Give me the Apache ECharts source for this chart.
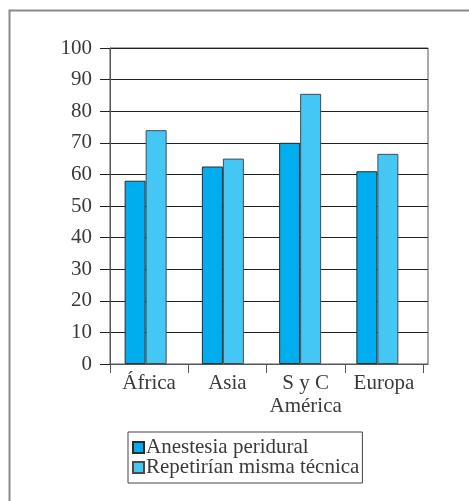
<!DOCTYPE html>
<html>
<head>
<meta charset="utf-8">
<script src="https://cdn.jsdelivr.net/npm/echarts@6/dist/echarts.min.js"></script>
<style>
  html, body { margin: 0; padding: 0; background: #fff; }
  #chart { width: 469px; height: 501px; }
</style>
</head>
<body>
<div id="chart"></div>
<script>
// Regions and the two survey measures (percent)
const regions = ['África', 'Asia', 'S y C\nAmérica', 'Europa'];
const anestesiaPeridural = [58, 62.5, 70, 61];
const repetiriaMismaTecnica = [74, 65, 85.5, 66.5];
const seriesNames = ['Anestesia peridural', 'Repetirían misma técnica'];
const yTicks = { min: 0, max: 100, step: 10 };

const FONT = 'Liberation Serif';
const TEXT = '#3a3a3a';
const FS = 21;

const chart = echarts.init(document.getElementById('chart'), null, { renderer: 'canvas' });

const plotTop = 48, plotBottom = 137;

chart.setOption({
  animation: false,
  backgroundColor: '#fff',
  textStyle: { fontFamily: FONT },
  graphic: [{
    // outer panel edge (left and top sides)
    type: 'polyline',
    shape: { points: [[9.5, 520], [9.5, 10.5], [480, 10.5]] },
    style: { fill: null, stroke: '#8a8a8a', lineWidth: 2 },
    silent: true
  }],
  grid: [
    // plot frame with gridlines
    { left: 110, right: 41, top: plotTop, bottom: plotBottom, show: true, borderColor: '#555', borderWidth: 1 },
    // category ticks and labels
    { left: 110, width: 313, top: plotTop, bottom: plotBottom },
    // bars
    { left: 107, width: 309, top: plotTop, bottom: plotBottom }
  ],
  xAxis: [
    { gridIndex: 0, type: 'category', data: regions, axisLine: { show: true, lineStyle: { color: '#555', width: 1 } },
      axisTick: { show: false }, axisLabel: { show: false } },
    { gridIndex: 1, type: 'category', data: regions, axisLine: { show: false },
      axisTick: { show: true, length: 9, lineStyle: { color: '#555' } },
      axisLabel: { show: true, color: TEXT, fontFamily: FONT, fontSize: FS, margin: 8, lineHeight: 23, interval: 0 } },
    { gridIndex: 2, type: 'category', data: regions, show: false }
  ],
  yAxis: [
    { gridIndex: 0, type: 'value', min: yTicks.min, max: yTicks.max, interval: yTicks.step,
      axisLine: { show: true, lineStyle: { color: '#555', width: 1 } },
      axisTick: { show: true, inside: false, length: 10, lineStyle: { color: '#222' } },
      axisLabel: { color: TEXT, fontFamily: FONT, fontSize: FS, margin: 18 },
      splitLine: { show: true, lineStyle: { color: '#222', width: 1 } } },
    { gridIndex: 1, type: 'value', min: yTicks.min, max: yTicks.max, show: false },
    { gridIndex: 2, type: 'value', min: yTicks.min, max: yTicks.max, show: false }
  ],
  legend: {
    left: 128, top: 432,
    orient: 'vertical', itemGap: -1, padding: [5, 3, 5, 4],
    borderColor: '#444', borderWidth: 1,
    itemWidth: 11, itemHeight: 11, icon: 'rect',
    textStyle: { color: TEXT, fontFamily: FONT, fontSize: FS, padding: [0, 0, 0, -3] },
    data: seriesNames
  },
  series: [
    { name: seriesNames[0], type: 'bar', xAxisIndex: 2, yAxisIndex: 2, data: anestesiaPeridural,
      barWidth: 21, barGap: '0%',
      itemStyle: { color: '#00AEEF', borderColor: '#2a2a2a', borderWidth: 1 } },
    { name: seriesNames[1], type: 'bar', xAxisIndex: 2, yAxisIndex: 2, data: repetiriaMismaTecnica,
      barWidth: 21, barGap: '0%',
      itemStyle: { color: '#45C7F5', borderColor: '#4a4a4a', borderWidth: 1 } }
  ]
});
</script>
</body>
</html>
